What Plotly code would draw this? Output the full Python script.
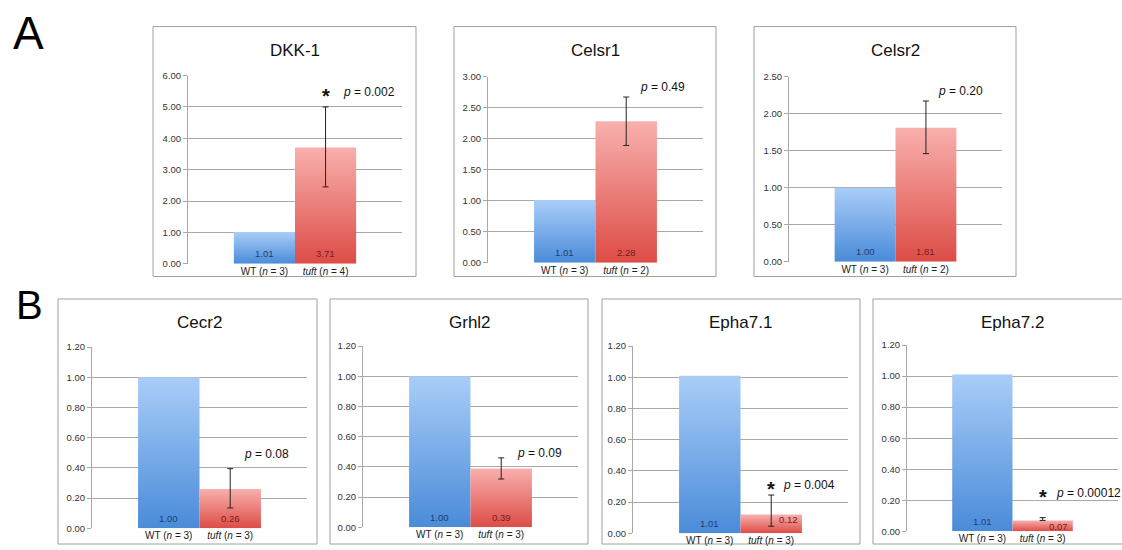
import plotly.graph_objects as go

# ---- data -------------------------------------------------------------
genes = ["DKK-1", "Celsr1", "Celsr2", "Cecr2", "Grhl2", "Epha7.1", "Epha7.2"]
wt_values = [1.01, 1.01, 1.00, 1.00, 1.00, 1.01, 1.01]
tuft_values = [3.71, 2.28, 1.81, 0.26, 0.39, 0.12, 0.07]
tuft_err_up = [1.29, 0.39, 0.36, 0.135, 0.07, 0.125, 0.018]
tuft_err_down = [1.26, 0.39, 0.35, 0.125, 0.07, 0.075, 0.0]
p_values = ["0.002", "0.49", "0.20", "0.08", "0.09", "0.004", "0.00012"]
significant = [True, False, False, False, False, True, True]
wt_n = [3, 3, 3, 3, 3, 3, 3]
tuft_n = [4, 2, 2, 3, 3, 3, 3]
y_max = [6.0, 3.0, 2.5, 1.2, 1.2, 1.2, 1.2]
y_step = [1.0, 0.5, 0.5, 0.2, 0.2, 0.2, 0.2]

# ---- layout geometry (pixels in a 1122 x 550 canvas) ------------------
W, H = 1122, 550
# plot area: (left, right, y of top gridline, y of zero line)
plot_px = [
    (188, 402, 71, 263),
    (488, 703, 72, 262),
    (789, 1002, 72, 261),
    (92, 307, 348, 533),
    (363, 578, 347, 532),
    (633, 848, 347, 538),
    (907, 1118, 346, 536),
]
# outer frame of each chart: (x0, y0, x1, y1)
frame_px = [
    (153, 21, 416, 276),
    (454, 21, 716, 276),
    (754, 21, 1016, 276),
    (58, 299, 317, 549),
    (330, 299, 588, 549),
    (602, 299, 860, 549),
    (873, 299, 1130, 549),
]
title_y_px = [45, 45, 45, 323, 323, 323, 323]
# left edge of the p-value text (x in data units) and its height
p_text_x = [0.75, 0.69, 0.66, 0.69, 0.73, 0.66, 0.69]
p_text_y = [5.47, 2.83, 2.31, 0.49, 0.49, 0.31, 0.246]
# offsets (px) of the tuft value label so it clears the error bar
tuft_label_dx = [0, 0, 0, 0, 0, 17, 16]
tuft_label_dy = [10, 10, 10, 10, 10, 14, 5]

X_HALF = 1.75          # half-width of the category axis, in bar widths
WT_X, TUFT_X = -0.5, 0.5

BLUE_DARK, BLUE_LIGHT = "#4a8bd9", "#a9cdf8"
RED_DARK, RED_LIGHT = "#dd4c46", "#f8b0ad"
GRID = "#a8a8a8"
FONT = "Liberation Sans, Arial, sans-serif"


def px2x(x):
    return x / W


def px2y(y):
    return 1 - y / H


fig = go.Figure()
annotations = []
shapes = []


def bar_trace(xc, value, dark, light, axis_id):
    xs = [xc - 0.5, xc + 0.5, xc + 0.5, xc - 0.5, xc - 0.5]
    ys = [0, 0, value, value, 0]
    return go.Scatter(
        x=xs, y=ys, fill="toself", mode="none",
        fillgradient=dict(type="vertical",
                          colorscale=[[0, dark], [1, light]]),
        xaxis="x" + axis_id, yaxis="y" + axis_id,
        showlegend=False, hoverinfo="skip",
    )


for i, gene in enumerate(genes):
    k = i + 1
    aid = "" if k == 1 else str(k)
    left, right, ytop, yzero = plot_px[i]

    fig.add_trace(bar_trace(WT_X, wt_values[i], BLUE_DARK, BLUE_LIGHT, aid))
    fig.add_trace(bar_trace(TUFT_X, tuft_values[i], RED_DARK, RED_LIGHT, aid))
    fig.add_trace(go.Scatter(
        x=[TUFT_X], y=[tuft_values[i]], mode="markers",
        marker=dict(size=1, color="rgba(0,0,0,0)"),
        error_y=dict(type="data", symmetric=False,
                     array=[tuft_err_up[i]], arrayminus=[tuft_err_down[i]],
                     color="#222222", thickness=1, width=3),
        xaxis="x" + aid, yaxis="y" + aid, showlegend=False, hoverinfo="skip",
    ))

    ticks = [round(j * y_step[i], 2) for j in range(int(round(y_max[i] / y_step[i])) + 1)]
    fig.update_layout(**{
        "xaxis" + aid: dict(
            domain=[px2x(left), px2x(right)], range=[-X_HALF, X_HALF],
            anchor="y" + aid, showgrid=False, zeroline=False, showline=False,
            tickvals=[WT_X, TUFT_X],
            ticktext=[f"WT (<i>n</i> = {wt_n[i]})",
                      f"<i>tuft</i> (<i>n</i> = {tuft_n[i]})"],
            tickfont=dict(size=10, color="#222222", family=FONT),
            ticks="", fixedrange=True,
        ),
        "yaxis" + aid: dict(
            domain=[px2y(yzero), px2y(ytop)], range=[0, y_max[i]],
            anchor="x" + aid, tickvals=ticks, tickformat=".2f",
            showgrid=True, gridcolor=GRID, gridwidth=1,
            zeroline=False, showline=True, linecolor=GRID, linewidth=1,
            ticks="outside", ticklen=4, tickcolor=GRID,
            tickfont=dict(size=9.5, color="#333333", family=FONT),
            fixedrange=True,
        ),
    })

    # chart title
    annotations.append(dict(
        text=gene, xref="paper", yref="paper",
        x=px2x((left + right) / 2), y=px2y(title_y_px[i]),
        xanchor="center", yanchor="middle", showarrow=False,
        font=dict(size=17, color="#111111", family=FONT),
    ))
    # values printed inside the bars
    annotations.append(dict(
        text=f"{wt_values[i]:.2f}", xref="x" + aid, yref="y" + aid,
        x=WT_X, y=0, yshift=10, xanchor="center", yanchor="middle",
        showarrow=False, font=dict(size=9.5, color="#1d3e6e", family=FONT),
    ))
    annotations.append(dict(
        text=f"{tuft_values[i]:.2f}", xref="x" + aid, yref="y" + aid,
        x=TUFT_X, y=0, xshift=tuft_label_dx[i], yshift=tuft_label_dy[i],
        xanchor="center", yanchor="middle",
        showarrow=False, font=dict(size=9.5, color="#7a1c1c", family=FONT),
    ))
    # p-value and significance star
    annotations.append(dict(
        text=f"<i>p</i> = {p_values[i]}", xref="x" + aid, yref="y" + aid,
        x=p_text_x[i], y=p_text_y[i], xanchor="left", yanchor="middle",
        showarrow=False, font=dict(size=12, color="#111111", family=FONT),
    ))
    if significant[i]:
        annotations.append(dict(
            text="<b>*</b>", xref="x" + aid, yref="y" + aid,
            x=TUFT_X, y=p_text_y[i], yshift=-4, xanchor="center", yanchor="middle",
            showarrow=False, font=dict(size=20, color="#111111", family=FONT),
        ))

    x0, y0, x1, y1 = frame_px[i]
    shapes.append(dict(
        type="rect", xref="paper", yref="paper",
        x0=px2x(x0), x1=px2x(x1), y0=px2y(y1), y1=px2y(y0),
        line=dict(color="#a0a0a0", width=1), fillcolor="rgba(0,0,0,0)",
        layer="below",
    ))

# panel letters
annotations.append(dict(text="A", xref="paper", yref="paper",
                        x=px2x(28), y=px2y(28), xanchor="center", yanchor="middle",
                        showarrow=False, font=dict(size=46, color="#000000", family=FONT)))
annotations.append(dict(text="B", xref="paper", yref="paper",
                        x=px2x(29), y=px2y(305), xanchor="center", yanchor="middle",
                        showarrow=False, font=dict(size=40, color="#000000", family=FONT)))

fig.update_layout(
    width=W, height=H, margin=dict(l=0, r=0, t=0, b=0),
    paper_bgcolor="white", plot_bgcolor="white",
    annotations=annotations, shapes=shapes, showlegend=False,
    font=dict(family=FONT),
)

fig.write_html("out.html")
